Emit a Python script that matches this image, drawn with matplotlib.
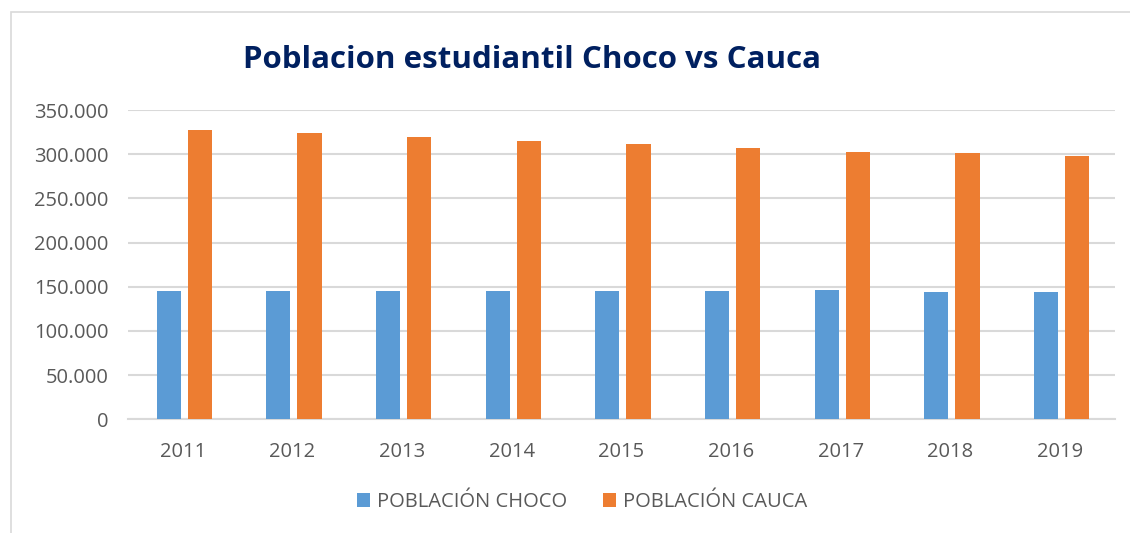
import matplotlib.pyplot as plt
from matplotlib.patches import Rectangle
from matplotlib.ticker import FuncFormatter
import numpy as np

plt.rcParams['font.family'] = ['Open Sans', 'DejaVu Sans']

years = ['2011', '2012', '2013', '2014', '2015', '2016', '2017', '2018', '2019']
choco = [145500, 145500, 145200, 145200, 145500, 145500, 146300, 144000, 144000]
cauca = [327300, 324200, 319300, 315200, 311400, 306900, 302400, 300900, 298200]

blue = '#5B9BD5'
orange = '#ED7D31'
grey_txt = '#595959'

fig = plt.figure(figsize=(11.3, 5.33), dpi=100)
ax = fig.add_axes([128/1130, 1 - 419.3/533, 987/1130, (419.3 - 110)/533])

x = np.arange(len(years))
w = 0.22
ax.bar(x - 0.13, choco, w, color=blue, label='POBLACIÓN CHOCO', zorder=3)
ax.bar(x + 0.155, cauca, w, color=orange, label='POBLACIÓN CAUCA', zorder=3)

ax.set_xlim(-0.5, len(years) - 0.5)
ax.set_ylim(0, 350000)
ax.set_yticks(np.arange(0, 350001, 50000))
ax.yaxis.set_major_formatter(FuncFormatter(lambda v, p: f'{int(v):,}'.replace(',', '.')))
ax.set_xticks(x)
ax.set_xticklabels(years)
ax.grid(axis='y', color='#D9D9D9', linewidth=1.5, zorder=0)
for s in ['top', 'right', 'left']:
    ax.spines[s].set_visible(False)
ax.spines['bottom'].set_color('#D9D9D9')
ax.spines['bottom'].set_linewidth(1.5)
ax.tick_params(axis='both', length=0, labelsize=14.5, colors=grey_txt)
ax.tick_params(axis='y', pad=14)
ax.tick_params(axis='x', pad=16)

fig.text(532/1130, 1 - 60/533, 'Poblacion estudiantil Choco vs Cauca', ha='center', va='center',
         fontsize=22.5, fontweight='bold', color='#002060')

leg = fig.legend(loc='center', bbox_to_anchor=(582/1130, 1 - 502/533), ncol=2, frameon=False,
                 fontsize=14.5, handlelength=0.65, handleheight=0.65, columnspacing=1.8, handletextpad=0.35)
for t in leg.get_texts():
    t.set_color(grey_txt)

fig.patches.append(Rectangle((11/1130, -0.1), 1.2, 1 - 12/533 + 0.1, transform=fig.transFigure,
                             fill=False, edgecolor='#D9D9D9', linewidth=1.2))

fig.savefig('out.png', dpi=100)
